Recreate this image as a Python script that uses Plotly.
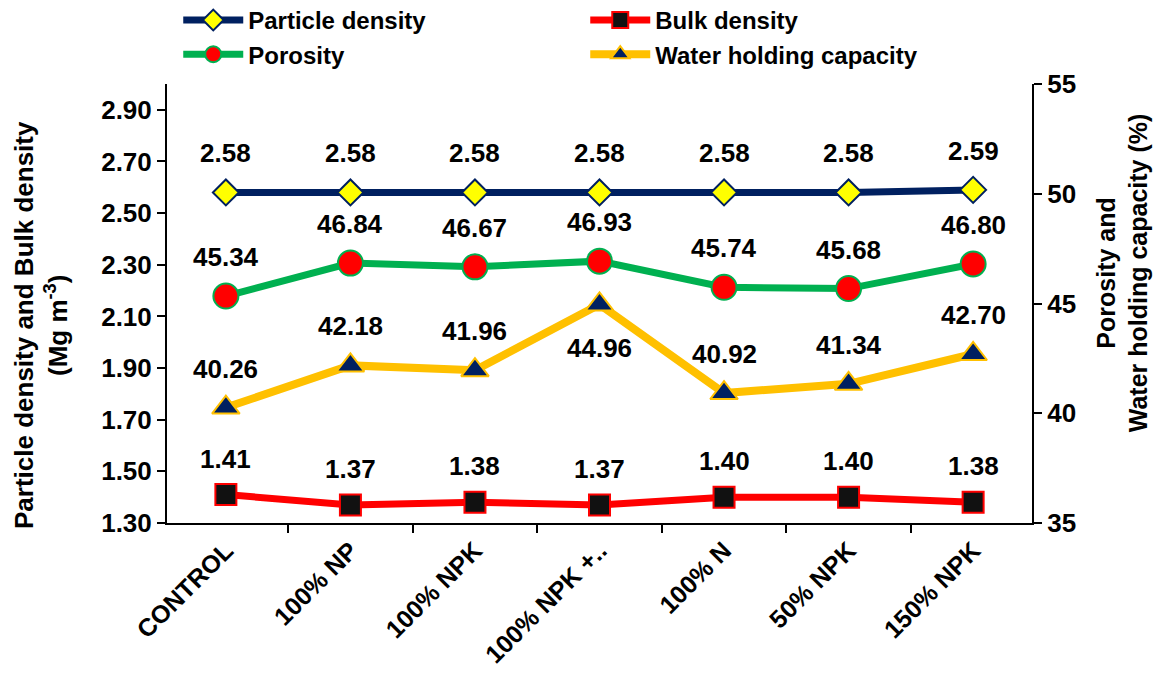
import plotly.graph_objects as go

categories = ["CONTROL", "100% NP", "100% NPK", "100% NPK +..", "100% N", "50% NPK", "150% NPK"]
particle_density = [2.58, 2.58, 2.58, 2.58, 2.58, 2.58, 2.59]
bulk_density = [1.41, 1.37, 1.38, 1.37, 1.40, 1.40, 1.38]
porosity = [45.34, 46.84, 46.67, 46.93, 45.74, 45.68, 46.80]
water_holding = [40.26, 42.18, 41.96, 44.96, 40.92, 41.34, 42.70]
# label placement: +1 above, -1 below
whc_label_side = [1, 1, 1, -1, 1, 1, 1]

FONT = "Liberation Sans, Arial, sans-serif"
NAVY = "#002060"
YELLOW = "#FFFF00"
GREEN = "#00B050"
RED = "#FF0000"
GOLD = "#FFC000"
BLACK = "#111111"

fig = go.Figure()

fig.add_trace(go.Scatter(
    x=categories, y=particle_density, name="Particle density", mode="lines+markers",
    line=dict(color=NAVY, width=7),
    marker=dict(symbol="diamond", size=20, color=YELLOW, line=dict(color=NAVY, width=2)),
    yaxis="y"))
fig.add_trace(go.Scatter(
    x=categories, y=bulk_density, name="Bulk density", mode="lines+markers",
    line=dict(color=RED, width=7),
    marker=dict(symbol="square", size=21, color=BLACK, line=dict(color=RED, width=2)),
    yaxis="y"))
fig.add_trace(go.Scatter(
    x=categories, y=porosity, name="Porosity", mode="lines+markers",
    line=dict(color=GREEN, width=7),
    marker=dict(symbol="circle", size=25, color=RED, line=dict(color=GREEN, width=2)),
    yaxis="y2"))
fig.add_trace(go.Scatter(
    x=categories, y=water_holding, name="Water holding capacity", mode="lines+markers",
    line=dict(color=GOLD, width=8),
    marker=dict(symbol="triangle-up", size=24, color=NAVY, line=dict(color=GOLD, width=2)),
    yaxis="y2"))

label_font = dict(family=FONT, size=26, color="black", weight="bold")
annotations = []
for c, v in zip(categories, particle_density):
    annotations.append(dict(x=c, y=v, yref="y", text=f"{v:.2f}", showarrow=False, yshift=39, font=label_font))
for c, v in zip(categories, bulk_density):
    annotations.append(dict(x=c, y=v, yref="y", text=f"{v:.2f}", showarrow=False, yshift=36, font=label_font))
for c, v in zip(categories, porosity):
    annotations.append(dict(x=c, y=v, yref="y2", text=f"{v:.2f}", showarrow=False, yshift=39, font=label_font))
for c, v, s in zip(categories, water_holding, whc_label_side):
    annotations.append(dict(x=c, y=v, yref="y2", text=f"{v:.2f}", showarrow=False,
                            yshift=39 if s > 0 else -44, font=label_font))

# axis titles
annotations.append(dict(text="Particle density and Bulk density<br>(Mg m<sup>-3</sup>)",
                        xref="paper", yref="paper", x=0, y=0.451, xshift=-126,
                        xanchor="center", yanchor="middle", textangle=-90,
                        showarrow=False, font=dict(family=FONT, size=26, color="black", weight="bold")))
annotations.append(dict(text="Porosity and<br>Water holding capacity (%)",
                        xref="paper", yref="paper", x=1, y=0.569, xshift=90,
                        xanchor="center", yanchor="middle", textangle=-90,
                        showarrow=False, font=dict(family=FONT, size=25, color="black", weight="bold")))

# The page places the figure with an 8px offset; size/margins compensate for it.
fig.update_layout(
    width=1153, height=665,
    margin=dict(l=159, r=129, t=76, b=150, autoexpand=False),
    paper_bgcolor="white", plot_bgcolor="white",
    font=dict(family=FONT, size=26, color="black"),
    showlegend=True,
    legend=dict(orientation="h", x=0.013, y=1.196, xanchor="left", yanchor="top",
                entrywidth=332, entrywidthmode="pixels",
                font=dict(family=FONT, size=24, color="black", weight="bold"),
                bgcolor="rgba(0,0,0,0)", itemwidth=60),
    xaxis=dict(
        type="category", showline=True, linecolor="black", linewidth=2, mirror=False,
        ticks="outside", ticklen=8, tickwidth=2, tickcolor="black", tickson="boundaries",
        tickangle=-45, showgrid=False, zeroline=False, automargin=False,
        ticklabelstandoff=1,
        tickfont=dict(family=FONT, size=25, color="black", weight="bold"),
    ),
    yaxis=dict(
        range=[1.3, 3.0], tick0=1.3, dtick=0.2, tickformat=".2f",
        showline=True, linecolor="black", linewidth=2, ticks="outside", ticklen=8,
        tickwidth=2, tickcolor="black", showgrid=False, zeroline=False, automargin=False,
        tickfont=dict(family=FONT, size=26, color="black", weight="bold"),
    ),
    yaxis2=dict(
        range=[35, 55], dtick=5, overlaying="y", side="right",
        showline=True, linecolor="black", linewidth=2, ticks="outside", ticklen=8,
        tickwidth=2, tickcolor="black", showgrid=False, zeroline=False, automargin=False,
        tickfont=dict(family=FONT, size=26, color="black", weight="bold"),
    ),
    annotations=annotations,
)

fig.write_html("out.html")
